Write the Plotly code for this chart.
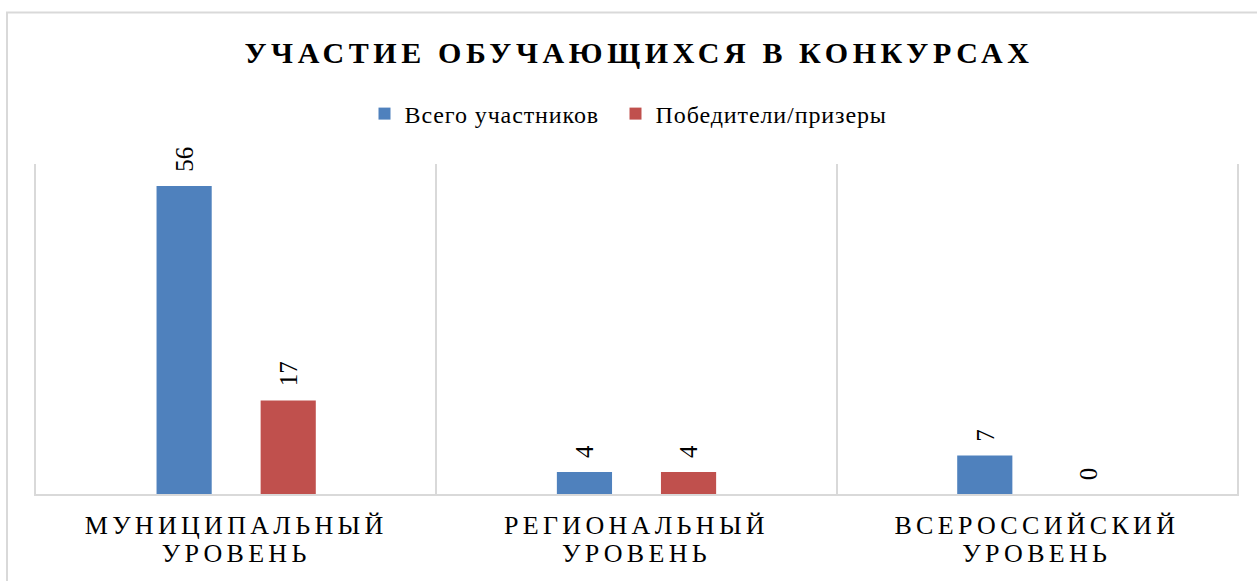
import plotly.graph_objects as go

# ---- data ----
categories = ["МУНИЦИПАЛЬНЫЙ<br>УРОВЕНЬ", "РЕГИОНАЛЬНЫЙ<br>УРОВЕНЬ", "ВСЕРОССИЙСКИЙ<br>УРОВЕНЬ"]
series_names = ["Всего участников", "Победители/призеры"]
total_values = [56, 4, 7]
winner_values = [17, 4, 0]
title_text = "УЧАСТИЕ ОБУЧАЮЩИХСЯ В КОНКУРСАХ"

# ---- style ----
W, H = 1257, 581
ML, MR, MT, MB = 36, 20, 164, 87
BARGAP = 0.48
GROUPGAP = 0.47
colors = ["#4F81BD", "#C0504D"]
SERIF = "Liberation Serif, Times New Roman, serif"
GRID = "#d9d9d9"

fig = go.Figure()
for name, vals, col in zip(series_names, [total_values, winner_values], colors):
    fig.add_trace(go.Bar(name=name, x=categories, y=vals, marker_color=col,
                         marker_line_width=0))

# value labels as annotations above bars
plot_w = W - ML - MR
cat_w = plot_w / len(categories)
slot = (1 - BARGAP) * cat_w / len(series_names)
for i, vals in enumerate([total_values, winner_values]):
    shift = (i - (len(series_names) - 1) / 2) * slot
    for c, v in zip(categories, vals):
        fig.add_annotation(x=c, y=v, xref="x", yref="y", text=str(v),
                           textangle=-90, showarrow=False, xshift=shift,
                           yanchor="bottom", yshift=12,
                           font=dict(family=SERIF, size=25, color="#000"))

# outer frame
fig.add_shape(type="rect", xref="paper", yref="paper",
              x0=(7 - ML) / plot_w, x1=(W + 10 - ML) / plot_w,
              y0=-0.4, y1=(H - MB - 12.5) / (H - MT - MB),
              line=dict(color=GRID, width=2), fillcolor="rgba(0,0,0,0)", layer="below")

fig.update_layout(
    width=W, height=H,
    margin=dict(l=ML, r=MR, t=MT, b=MB, autoexpand=False),
    paper_bgcolor="white", plot_bgcolor="white",
    barmode="group", bargap=BARGAP, bargroupgap=GROUPGAP,
    title=dict(text=title_text, x=639 / W, xanchor="center", y=1 - 52 / H, yanchor="middle",
               font=dict(family=SERIF, size=30, color="#000", weight="bold")),
    legend=dict(orientation="h", x=0.5 - 21 / plot_w, xanchor="center",
                y=(H - MB - 114) / (H - MT - MB),
                yanchor="middle", font=dict(family=SERIF, size=24, color="#000"),
                itemwidth=30, traceorder="normal", entrywidth=206, entrywidthmode="pixels"),
    showlegend=True,
)
fig.update_xaxes(tickson="boundaries", showgrid=True, gridcolor=GRID, gridwidth=2,
                 showline=True, linecolor=GRID, linewidth=2, ticks="",
                 tickfont=dict(family=SERIF, size=26, color="#000"),
                 ticklabelstandoff=7, automargin=False)
fig.update_yaxes(range=[0, 60], showticklabels=False, showgrid=False, zeroline=False,
                 showline=True, linecolor=GRID, linewidth=2, mirror=True, ticks="",
                 automargin=False)

post = """
document.body.style.margin='0';
var gd = document.getElementById('{plot_id}');
gd.querySelectorAll('.gtitle').forEach(function(e){e.style.letterSpacing='4.6px';});
gd.querySelectorAll('.xtick text').forEach(function(e){
  e.style.letterSpacing='4.3px';
  var ls = e.querySelectorAll('tspan.line');
  for (var i = 1; i < ls.length; i++) { ls[i].setAttribute('dy', '1.08em'); }
});
gd.querySelectorAll('.legendtext').forEach(function(e){e.style.letterSpacing='0.9px';});
gd.querySelectorAll('.legend [clip-path]').forEach(function(e){e.removeAttribute('clip-path');});
"""
fig.write_html("out.html", post_script=post, config={"displayModeBar": False})
